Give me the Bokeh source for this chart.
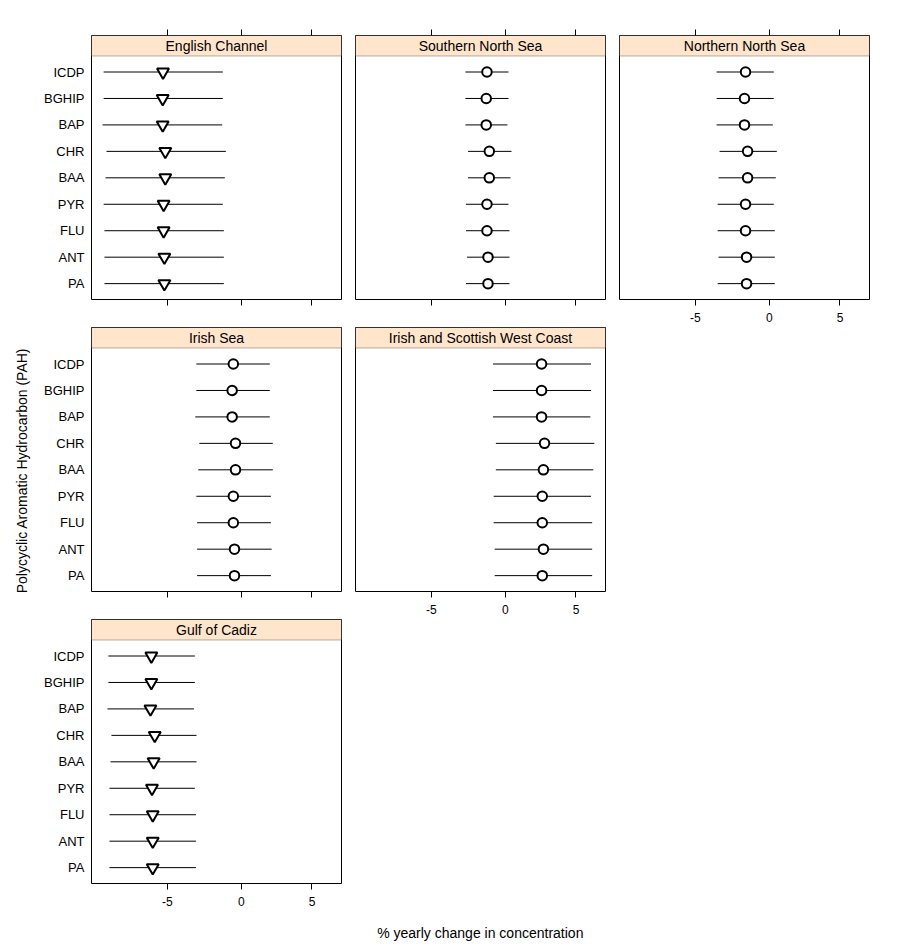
import numpy as np
from bokeh.plotting import figure
from bokeh.models import Range1d, FixedTicker, LinearAxis, BoxAnnotation, Label, ColumnDataSource
from bokeh.layouts import row, column
from bokeh.embed import file_html
from bokeh.resources import INLINE

# ---------------- data (bottom to top) ----------------
pah = ["PA", "ANT", "FLU", "PYR", "BAA", "CHR", "BAP", "BGHIP", "ICDP"]

ec_lo = [-9.04, -9.04, -9.04, -9.09, -8.97, -8.91, -9.16, -9.09, -9.09]
ec_est = [-5.19, -5.19, -5.24, -5.24, -5.13, -5.13, -5.30, -5.30, -5.28]
ec_hi = [-1.21, -1.21, -1.21, -1.28, -1.14, -1.07, -1.32, -1.28, -1.28]

sns_lo = [-2.69, -2.62, -2.69, -2.69, -2.55, -2.55, -2.73, -2.73, -2.73]
sns_est = [-1.20, -1.20, -1.27, -1.27, -1.11, -1.11, -1.32, -1.32, -1.27]
sns_hi = [0.28, 0.28, 0.28, 0.21, 0.35, 0.42, 0.14, 0.21, 0.21]

nns_lo = [-3.52, -3.46, -3.52, -3.52, -3.46, -3.39, -3.59, -3.59, -3.59]
nns_est = [-1.57, -1.57, -1.64, -1.64, -1.50, -1.50, -1.71, -1.71, -1.64]
nns_hi = [0.37, 0.37, 0.37, 0.30, 0.44, 0.51, 0.23, 0.30, 0.30]

is_lo = [-3.02, -3.02, -3.02, -3.07, -2.94, -2.87, -3.14, -3.07, -3.07]
is_est = [-0.48, -0.48, -0.56, -0.56, -0.41, -0.41, -0.64, -0.64, -0.56]
is_hi = [2.06, 2.11, 2.06, 2.06, 2.19, 2.19, 1.98, 1.98, 1.98]

wc_lo = [-0.74, -0.74, -0.81, -0.81, -0.66, -0.66, -0.86, -0.86, -0.86]
wc_est = [2.58, 2.66, 2.58, 2.58, 2.66, 2.74, 2.53, 2.53, 2.53]
wc_hi = [6.18, 6.18, 6.18, 6.10, 6.26, 6.34, 6.05, 6.10, 6.10]

gc_lo = [-8.72, -8.72, -8.72, -8.72, -8.66, -8.60, -8.85, -8.79, -8.79]
gc_est = [-5.95, -5.95, -5.95, -6.00, -5.89, -5.82, -6.10, -6.04, -6.04]
gc_hi = [-3.10, -3.10, -3.10, -3.17, -3.06, -3.06, -3.23, -3.17, -3.17]

x_tick_values = [-5, 0, 5]
x_tick_labels = ["-5", "0", "5"]

regions = ["English Channel", "Southern North Sea", "Northern North Sea",
           "Irish Sea", "Irish and Scottish West Coast", "Gulf of Cadiz"]

# ---------------- scale (log yearly change) ----------------
def to_axis(v):
    return 100.0 * np.log1p(np.asarray(v, dtype=float) / 100.0)

X_MIN, X_MAX = -10.37, 6.92
Y_MIN, Y_MAX = 0.4, 10.38
STRIP_BOTTOM = 9.605

FONT = "Liberation Sans"
STRIP_COLOR = "#FFE5CC"

tick_pos = [float(t) for t in to_axis(x_tick_values)]
lab_over = {t: l for t, l in zip(tick_pos, x_tick_labels)}
empty_over = {t: "" for t in tick_pos}

ROWS = [dict(height=326, top=35, bottom=27),
        dict(height=292, top=1, bottom=27),
        dict(height=295, top=1, bottom=30)]


def make_panel(name, lo, est, hi, marker, col, r, show_xlab, top_ticks):
    rs = ROWS[r]
    width = 310 if col == 0 else 264
    p = figure(width=width, height=rs["height"],
               x_range=Range1d(X_MIN, X_MAX), y_range=Range1d(Y_MIN, Y_MAX),
               x_axis_location=None, y_axis_location=None,
               toolbar_location=None, tools="", output_backend="svg",
               min_border_left=53 if col == 0 else 7, min_border_right=7,
               min_border_top=rs["top"], min_border_bottom=rs["bottom"],
               background_fill_color="white", border_fill_color="white",
               outline_line_color="black", outline_line_width=1)
    p.xgrid.visible = False
    p.ygrid.visible = False

    y = list(range(1, len(pah) + 1))
    src = ColumnDataSource(dict(y=y, lo=to_axis(lo), est=to_axis(est), hi=to_axis(hi)))
    p.segment(x0="lo", y0="y", x1="hi", y1="y", source=src, line_color="black", line_width=1)
    p.scatter(x="est", y="y", source=src, marker=marker,
              size=9.5 if marker == "circle" else 12,
              fill_color="white", line_color="black", line_width=2)

    # strip
    p.add_layout(BoxAnnotation(bottom=STRIP_BOTTOM, fill_color=STRIP_COLOR, fill_alpha=1.0,
                               line_color="black", line_width=1, level="underlay"))
    p.add_layout(Label(x=(X_MIN + X_MAX) / 2, y=(STRIP_BOTTOM + Y_MAX) / 2, text=name,
                       text_align="center", text_baseline="middle",
                       text_font_size="14px", text_font=FONT, text_font_style="normal",
                       text_color="black"))

    def xaxis(overrides):
        ax = LinearAxis(ticker=FixedTicker(ticks=tick_pos),
                        major_label_overrides=overrides,
                        axis_line_color=None, major_tick_line_color="black",
                        major_tick_out=6, major_tick_in=0,
                        minor_tick_line_color=None,
                        major_label_standoff=7,
                        major_label_text_font=FONT, major_label_text_font_size="12px",
                        major_label_text_color="black")
        return ax

    p.add_layout(xaxis(lab_over if show_xlab else empty_over), "below")
    if top_ticks:
        p.add_layout(xaxis(empty_over), "above")

    if col == 0:
        yax = LinearAxis(ticker=FixedTicker(ticks=y),
                         major_label_overrides={i: n for i, n in zip(y, pah)},
                         axis_line_color=None, major_tick_line_color=None,
                         major_tick_out=0, major_tick_in=0,
                         minor_tick_line_color=None, major_label_standoff=7,
                         major_label_text_font=FONT, major_label_text_font_size="13px",
                         major_label_text_color="black")
        p.add_layout(yax, "left")
    return p


tri = "inverted_triangle"
ec = make_panel(regions[0], ec_lo, ec_est, ec_hi, tri, 0, 0, False, True)
sns = make_panel(regions[1], sns_lo, sns_est, sns_hi, "circle", 1, 0, False, True)
nns = make_panel(regions[2], nns_lo, nns_est, nns_hi, "circle", 2, 0, True, True)
irs = make_panel(regions[3], is_lo, is_est, is_hi, "circle", 0, 1, False, False)
wc = make_panel(regions[4], wc_lo, wc_est, wc_hi, "circle", 1, 1, True, False)
gc = make_panel(regions[5], gc_lo, gc_est, gc_hi, tri, 0, 2, True, False)


def title_fig(w, h):
    f = figure(width=w, height=h, x_range=Range1d(0, w), y_range=Range1d(h, 0),
               x_axis_location=None, y_axis_location=None, toolbar_location=None,
               tools="", output_backend="svg", min_border=0,
               outline_line_color=None, background_fill_color="white",
               border_fill_color="white")
    f.xgrid.visible = False
    f.ygrid.visible = False
    return f

ytf = title_fig(38, 941)
ytf.add_layout(Label(x=21, y=470, text="Polycyclic Aromatic Hydrocarbon (PAH)",
                     angle=np.pi / 2, text_align="center", text_baseline="middle",
                     text_font=FONT, text_font_size="14px", text_font_style="normal",
                     text_color="black"))

xtf = title_fig(838, 28)
xtf.add_layout(Label(x=441.8, y=19, text="% yearly change in concentration",
                     text_align="center", text_baseline="middle",
                     text_font=FONT, text_font_size="14px", text_font_style="normal",
                     text_color="black"))

layout = row(ytf, column(row(ec, sns, nns), row(irs, wc), row(gc), xtf))

open("out.html", "w").write(file_html(layout, INLINE))
